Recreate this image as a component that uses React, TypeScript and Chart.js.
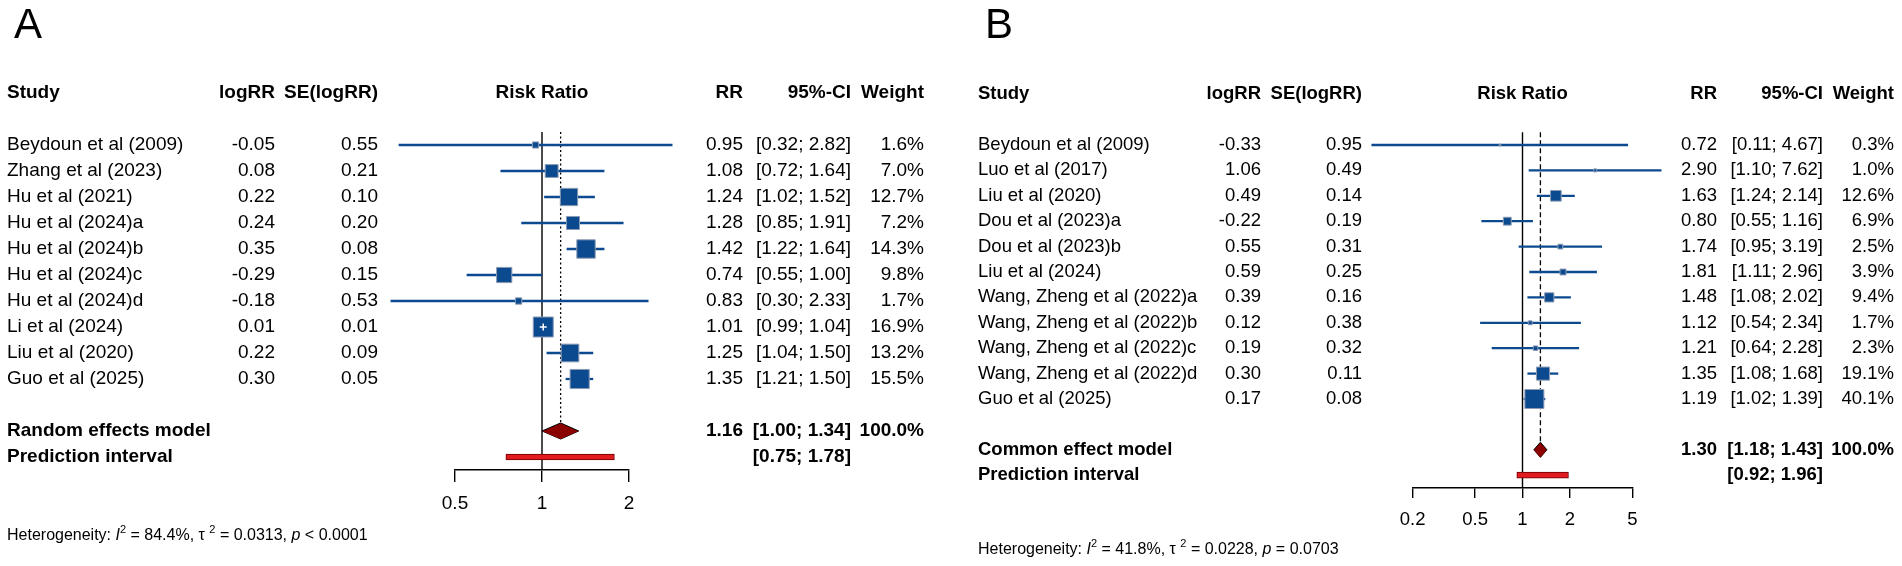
import React, { useEffect, useRef } from "react";
import { Chart, registerables } from "chart.js";

Chart.register(...registerables);

const FONT = '"Liberation Sans", Arial, Helvetica, sans-serif';

// ---------------- Panel A data ----------------
const studiesA = [
  "Beydoun et al (2009)",
  "Zhang et al (2023)",
  "Hu et al (2021)",
  "Hu et al (2024)a",
  "Hu et al (2024)b",
  "Hu et al (2024)c",
  "Hu et al (2024)d",
  "Li et al (2024)",
  "Liu et al (2020)",
  "Guo et al (2025)",
];
const logRRA = [-0.05, 0.08, 0.22, 0.24, 0.35, -0.29, -0.18, 0.01, 0.22, 0.3];
const seA = [0.55, 0.21, 0.1, 0.2, 0.08, 0.15, 0.53, 0.01, 0.09, 0.05];
const rrA = [0.95, 1.08, 1.24, 1.28, 1.42, 0.74, 0.83, 1.01, 1.25, 1.35];
const loA = [0.32, 0.72, 1.02, 0.85, 1.22, 0.55, 0.3, 0.99, 1.04, 1.21];
const hiA = [2.82, 1.64, 1.52, 1.91, 1.64, 1.0, 2.33, 1.04, 1.5, 1.5];
const weightA = [1.6, 7.0, 12.7, 7.2, 14.3, 9.8, 1.7, 16.9, 13.2, 15.5];
const pooledA = [1.16, 1.0, 1.34]; // estimate, lower, upper
const predA = [0.75, 1.78];
const hetA = ["84.4%", "0.0313", "< 0.0001"];
const ticksA = [0.5, 1, 2];

// ---------------- Panel B data ----------------
const studiesB = [
  "Beydoun et al (2009)",
  "Luo et al (2017)",
  "Liu et al (2020)",
  "Dou et al (2023)a",
  "Dou et al (2023)b",
  "Liu et al (2024)",
  "Wang, Zheng et al (2022)a",
  "Wang, Zheng et al (2022)b",
  "Wang, Zheng et al (2022)c",
  "Wang, Zheng et al (2022)d",
  "Guo et al (2025)",
];
const logRRB = [-0.33, 1.06, 0.49, -0.22, 0.55, 0.59, 0.39, 0.12, 0.19, 0.3, 0.17];
const seB = [0.95, 0.49, 0.14, 0.19, 0.31, 0.25, 0.16, 0.38, 0.32, 0.11, 0.08];
const rrB = [0.72, 2.9, 1.63, 0.8, 1.74, 1.81, 1.48, 1.12, 1.21, 1.35, 1.19];
const loB = [0.11, 1.1, 1.24, 0.55, 0.95, 1.11, 1.08, 0.54, 0.64, 1.08, 1.02];
const hiB = [4.67, 7.62, 2.14, 1.16, 3.19, 2.96, 2.02, 2.34, 2.28, 1.68, 1.39];
const weightB = [0.3, 1.0, 12.6, 6.9, 2.5, 3.9, 9.4, 1.7, 2.3, 19.1, 40.1];
const pooledB = [1.3, 1.18, 1.43];
const predB = [0.92, 1.96];
const hetB = ["41.8%", "0.0228", "= 0.0703"];
const ticksB = [0.2, 0.5, 1, 2, 5];

type PanelDef = {
  letter: string;
  modelName: string;
  studies: string[];
  te: number[];
  se: number[];
  rr: number[];
  lo: number[];
  hi: number[];
  w: number[];
  pooled: number[];
  pred: number[];
  het: string[];
  ticks: number[];
  offset: number;
  width: number;
  xMin: number;
  xMax: number;
  yMax: number;
  pad: { left: number; right: number; top: number; bottom: number };
  fs: number;
  tickLen: number;
  tickPad: number;
  modelRow: number;
  dh: number;
  dash: number[];
  maxSquare: number;
  col: { study: number; te: number; se: number; rr: number; ci: number; w: number };
  letterX: number;
  hetRow: number;
};

const panelA: PanelDef = {
  letter: "A",
  modelName: "Random effects model",
  studies: studiesA,
  te: logRRA,
  se: seA,
  rr: rrA,
  lo: loA,
  hi: hiA,
  w: weightA,
  pooled: pooledA,
  pred: predA,
  het: hetA,
  ticks: ticksA,
  offset: 0,
  width: 950,
  xMin: 0.5,
  xMax: 2,
  yMax: 12.5,
  pad: { left: 455, right: 321, top: 132, bottom: 46 },
  fs: 19,
  tickLen: 12,
  tickPad: 10.5,
  modelRow: 11,
  dh: 0.31,
  dash: [2, 2.5],
  maxSquare: 20,
  col: { study: 7, te: 275, se: 378, rr: 743, ci: 851, w: 924 },
  letterX: 14,
  hetRow: 15.04,
};

const panelB: PanelDef = {
  letter: "B",
  modelName: "Common effect model",
  studies: studiesB,
  te: logRRB,
  se: seB,
  rr: rrB,
  lo: loB,
  hi: hiB,
  w: weightB,
  pooled: pooledB,
  pred: predB,
  het: hetB,
  ticks: ticksB,
  offset: 950,
  width: 952,
  xMin: 0.2,
  xMax: 5,
  yMax: 13.5,
  pad: { left: 462.6, right: 269.6, top: 132.3, bottom: 28.1 },
  fs: 18.5,
  tickLen: 10,
  tickPad: 11,
  modelRow: 12,
  dh: 0.3,
  dash: [5, 3],
  maxSquare: 19,
  col: { study: 978, te: 1261, se: 1362, rr: 1717, ci: 1823, w: 1894 },
  letterX: 985,
  hetRow: 15.94,
};

const BLUE = "#0b4a8f";
const AXIS_H = 50;

function fmtCI(lo: number, hi: number) {
  return "[" + lo.toFixed(2) + "; " + hi.toFixed(2) + "]";
}

function buildConfig(P: PanelDef): any {
  const rows = P.studies.map((_, i) => i);
  const wMax = Math.max(...P.w);
  const side = P.w.map((w) => P.maxSquare * Math.sqrt(w / wMax));
  const areaW = P.width - P.pad.left - P.pad.right;
  const pxPerLn = areaW / Math.log(P.xMax / P.xMin);
  const inside = rows.filter(
    (i) => (Math.log(P.hi[i]) - Math.log(P.lo[i])) * pxPerLn < side[i]
  );
  const mRow = P.modelRow;
  const pRow = mRow + 1;

  const textPlugin = {
    id: "forestText" + P.letter,
    afterDraw(chart: any) {
      const ctx = chart.ctx as CanvasRenderingContext2D;
      const ys = chart.scales.y;
      const xs = chart.scales.x;
      const Y = (r: number) => ys.getPixelForValue(r);
      const X = (px: number) => px - P.offset;
      const font = (bold: boolean, size: number, italic = false) =>
        `${italic ? "italic " : ""}${bold ? "bold " : ""}${size}px ${FONT}`;
      const txt = (s: string, x: number, y: number, align: CanvasTextAlign, bold = false) => {
        ctx.font = font(bold, P.fs);
        ctx.textAlign = align;
        ctx.fillText(s, x, y);
      };
      ctx.save();
      ctx.fillStyle = "#000";
      ctx.textBaseline = "alphabetic";
      ctx.font = `42px ${FONT}`;
      ctx.textAlign = "left";
      ctx.fillText(P.letter, X(P.letterX), 38);

      ctx.textBaseline = "middle";
      const hy = Y(-2);
      txt("Study", X(P.col.study), hy, "left", true);
      txt("logRR", X(P.col.te), hy, "right", true);
      txt("SE(logRR)", X(P.col.se), hy, "right", true);
      txt("Risk Ratio", xs.getPixelForValue(1), hy, "center", true);
      txt("RR", X(P.col.rr), hy, "right", true);
      txt("95%-CI", X(P.col.ci), hy, "right", true);
      txt("Weight", X(P.col.w), hy, "right", true);

      rows.forEach((i) => {
        const y = Y(i);
        txt(P.studies[i], X(P.col.study), y, "left");
        txt(P.te[i].toFixed(2), X(P.col.te), y, "right");
        txt(P.se[i].toFixed(2), X(P.col.se), y, "right");
        txt(P.rr[i].toFixed(2), X(P.col.rr), y, "right");
        txt(fmtCI(P.lo[i], P.hi[i]), X(P.col.ci), y, "right");
        txt(P.w[i].toFixed(1) + "%", X(P.col.w), y, "right");
      });

      const my = Y(mRow);
      txt(P.modelName, X(P.col.study), my, "left", true);
      txt(P.pooled[0].toFixed(2), X(P.col.rr), my, "right", true);
      txt(fmtCI(P.pooled[1], P.pooled[2]), X(P.col.ci), my, "right", true);
      txt("100.0%", X(P.col.w), my, "right", true);
      const py = Y(pRow);
      txt("Prediction interval", X(P.col.study), py, "left", true);
      txt(fmtCI(P.pred[0], P.pred[1]), X(P.col.ci), py, "right", true);

      let hx = X(P.col.study);
      const hyy = Y(P.hetRow);
      ctx.textAlign = "left";
      const seg = (s: string, italic = false, sup = false) => {
        ctx.font = font(false, sup ? 11 : 16, italic);
        ctx.fillText(s, hx, sup ? hyy - 6 : hyy);
        hx += ctx.measureText(s).width;
      };
      seg("Heterogeneity: ");
      seg("I", true);
      seg("2", false, true);
      seg(" = " + P.het[0] + ", ");
      seg("\u03c4 ");
      seg("2", false, true);
      seg(" = " + P.het[1] + ", ");
      seg("p", true);
      seg(" " + P.het[2]);
      ctx.restore();
    },
  };

  return {
    type: "scatter",
    data: {
      datasets: [
        {
          type: "line",
          data: [
            { x: 1, y: -0.5 },
            { x: 1, y: P.yMax },
          ],
          borderColor: "#000",
          borderWidth: 1.4,
          pointRadius: 0,
          fill: false,
          order: 7,
          clip: false,
        },
        {
          type: "line",
          data: [
            { x: P.pooled[0], y: -0.5 },
            { x: P.pooled[0], y: mRow - P.dh },
          ],
          borderColor: "#000",
          borderWidth: 1.3,
          borderDash: P.dash,
          pointRadius: 0,
          fill: false,
          order: 7,
          clip: false,
        },
        {
          type: "bar",
          indexAxis: "y",
          grouped: false,
          data: rows.map((i) => ({ x: [P.lo[i], P.hi[i]], y: i })),
          barThickness: 1.6,
          backgroundColor: BLUE,
          borderWidth: 0,
          order: 6,
          clip: false,
        },
        {
          type: "scatter",
          data: rows.map((i) => ({ x: P.rr[i], y: i })),
          pointStyle: "rect",
          pointRadius: (c: any) => Math.max(side[c.dataIndex], 1.8) / Math.SQRT2,
          pointBackgroundColor: BLUE,
          pointBorderColor: "#8d9cb4",
          pointBorderWidth: 1,
          order: 5,
          clip: false,
        },
        {
          type: "scatter",
          data: inside.map((i) => ({ x: P.rr[i], y: i })),
          pointStyle: "cross",
          pointRadius: 3.5,
          pointBorderColor: "#ffffff",
          pointBorderWidth: 1.5,
          order: 4,
          clip: false,
        },
        {
          type: "bar",
          indexAxis: "y",
          grouped: false,
          data: [{ x: [P.pred[0], P.pred[1]], y: pRow }],
          barThickness: 6,
          backgroundColor: "#e11b1f",
          borderColor: "#6b0000",
          borderWidth: 1,
          borderSkipped: false,
          order: 3,
          clip: false,
        },
        {
          type: "line",
          data: [
            { x: P.pooled[1], y: mRow },
            { x: P.pooled[0], y: mRow - P.dh },
            { x: P.pooled[2], y: mRow },
          ],
          fill: "+1",
          backgroundColor: "#8b0000",
          borderColor: "#000",
          borderWidth: 1,
          pointRadius: 0,
          order: 2,
          clip: false,
        },
        {
          type: "line",
          data: [
            { x: P.pooled[1], y: mRow },
            { x: P.pooled[0], y: mRow + P.dh },
            { x: P.pooled[2], y: mRow },
          ],
          fill: false,
          borderColor: "#000",
          borderWidth: 1,
          pointRadius: 0,
          order: 2,
          clip: false,
        },
      ],
    },
    options: {
      responsive: false,
      animation: false,
      events: [],
      devicePixelRatio: 1,
      layout: { padding: P.pad },
      plugins: { legend: { display: false }, tooltip: { enabled: false } },
      scales: {
        x: {
          type: "logarithmic",
          min: P.xMin,
          max: P.xMax,
          offset: false,
          stacked: false,
          afterBuildTicks: (s: any) => {
            s.ticks = P.ticks.map((v) => ({ value: v }));
          },
          afterFit: (s: any) => {
            s.height = AXIS_H;
          },
          ticks: {
            autoSkip: false,
            maxRotation: 0,
            minRotation: 0,
            padding: P.tickPad,
            color: "#000",
            font: { family: FONT, size: P.fs },
            callback: (v: any) => String(v),
          },
          grid: {
            offset: false,
            drawOnChartArea: false,
            drawTicks: true,
            tickLength: P.tickLen,
            color: "#000",
            lineWidth: 1.4,
          },
          border: { display: true, color: "#000", width: 1.4 },
        },
        y: {
          type: "linear",
          min: -0.5,
          max: P.yMax,
          reverse: true,
          offset: false,
          grace: 0,
          grid: { offset: false },
          display: false,
        },
      },
    },
    plugins: [textPlugin],
  };
}

function ForestPanel({ P }: { P: PanelDef }) {
  const ref = useRef<HTMLCanvasElement | null>(null);
  useEffect(() => {
    if (!ref.current) return;
    const chart = new Chart(ref.current, buildConfig(P));
    return () => chart.destroy();
  }, [P]);
  return (
    <canvas
      ref={ref}
      width={P.width}
      height={566}
      style={{ position: "absolute", left: P.offset, top: 0, width: P.width, height: 566 }}
    />
  );
}

export default function App() {
  return (
    <div
      style={{
        position: "absolute",
        left: 0,
        top: 0,
        width: 1902,
        height: 566,
        background: "#fff",
        overflow: "hidden",
      }}
    >
      <ForestPanel P={panelA} />
      <ForestPanel P={panelB} />
    </div>
  );
}
